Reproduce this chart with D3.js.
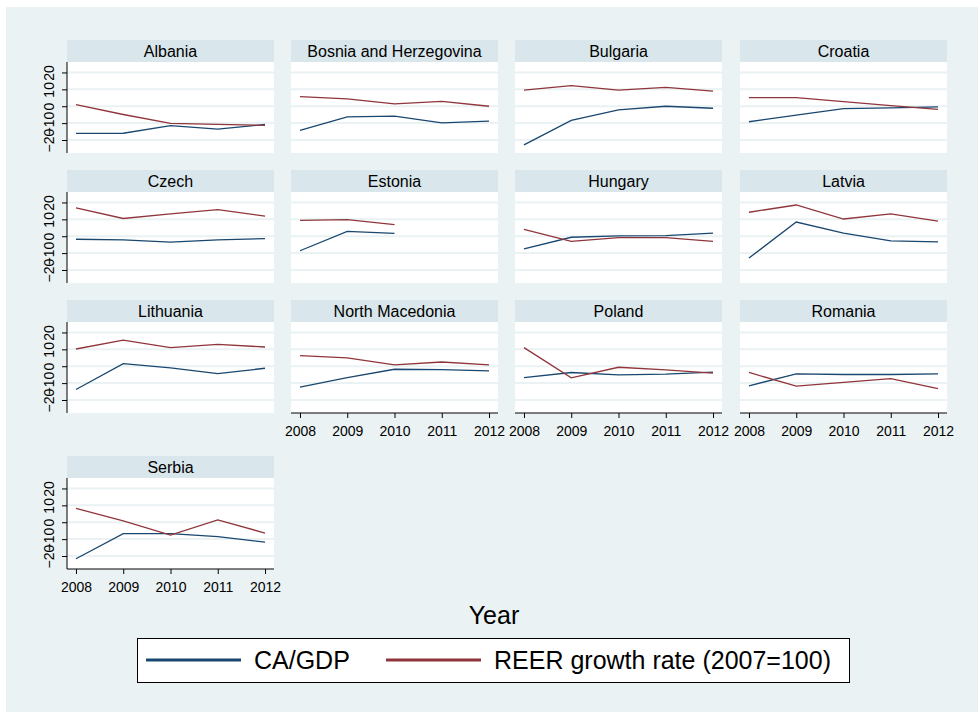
<!DOCTYPE html>
<html>
<head>
<meta charset="utf-8">
<script src="https://cdn.jsdelivr.net/npm/d3@7"></script>
<style>
  body { margin: 0; background: #fff; }
  text { font-family: "Liberation Sans", Arial, sans-serif; fill: #000; }
</style>
</head>
<body>
<div id="chart"></div>
<script>
var svgWidth = 978;
var svgHeight = 712;

// data
var countries = ["Albania", "Bosnia and Herzegovina", "Bulgaria", "Croatia",
  "Czech", "Estonia", "Hungary", "Latvia",
  "Lithuania", "North Macedonia", "Poland", "Romania",
  "Serbia"];
var years = [2008, 2009, 2010, 2011, 2012];
var yTicks = [-20, -10, 0, 10, 20];

var caGdp = [
  [-16.1, -16.0, -11.5, -13.5, -10.8],
  [-14.3, -6.3, -5.9, -9.8, -8.8],
  [-22.9, -8.4, -2.2, 0.0, -1.2],
  [-9.2, -5.3, -1.4, -1.0, -0.4],
  [-1.8, -2.2, -3.5, -2.2, -1.4],
  [-8.6, 2.9, 1.7, null, null],
  [-7.5, -0.6, 0.2, 0.4, 1.9],
  [-12.9, 8.4, 1.9, -2.8, -3.4],
  [-13.8, 1.5, -1.0, -4.4, -1.2],
  [-12.4, -6.7, -1.8, -2.0, -2.7],
  [-6.7, -3.7, -5.1, -4.7, -3.5],
  [-11.6, -4.5, -4.9, -4.9, -4.5],
  [-21.6, -6.8, -6.8, -8.5, -11.8]
];
var reer = [
  [1.0, -4.9, -10.2, -10.8, -11.3],
  [5.7, 4.3, 1.4, 2.9, 0.0],
  [9.6, 12.2, 9.6, 11.2, 9.0],
  [5.1, 5.1, 2.7, 0.4, -1.8],
  [16.8, 10.5, 13.3, 15.7, 11.9],
  [9.4, 9.8, 6.9, null, null],
  [4.1, -3.1, -0.8, -0.8, -3.1],
  [14.2, 18.5, 10.2, 13.2, 9.0],
  [10.2, 15.5, 11.0, 12.9, 11.4],
  [6.3, 4.9, 0.8, 2.5, 0.8],
  [11.0, -6.9, -0.6, -2.2, -4.1],
  [-3.7, -11.8, -9.6, -7.3, -13.3],
  [8.2, 0.8, -7.6, 1.4, -6.4]
];
var seriesNames = ["CA/GDP", "REER growth rate (2007=100)"];
var seriesColors = ["#1a476f", "#90353b"];

// layout
var colX = [67, 291, 515, 740];
var rowY = [40, 170, 300, 456];
var panelW = 207;
var headH = 22;
var plotH = 91;

var svg = d3.select("#chart")
  .append("svg")
  .attr("width", svgWidth)
  .attr("height", svgHeight);

svg.append("rect")
  .attr("x", 6).attr("y", 7)
  .attr("width", svgWidth - 6).attr("height", svgHeight - 7)
  .attr("fill", "#eaf2f3");

var xScale = d3.scaleLinear()
  .domain([2007.81, 2012.19])
  .range([0, panelW]);

var yScale = d3.scaleLinear()
  .domain([-27.7, 26.2])
  .range([plotH, 0]);

var line = d3.line()
  .defined(d => d.v !== null)
  .x(d => xScale(d.year))
  .y(d => yScale(d.v));

countries.forEach(function(name, i) {
  var col = i % 4;
  var row = Math.floor(i / 4);
  var g = svg.append("g")
    .attr("transform", `translate(${colX[col]}, ${rowY[row]})`);

  // header strip
  g.append("rect")
    .attr("width", panelW).attr("height", headH)
    .attr("fill", "#d9e6eb");
  g.append("text")
    .attr("x", panelW / 2).attr("y", 17)
    .attr("text-anchor", "middle")
    .attr("font-size", "16px")
    .text(name);

  var plot = g.append("g").attr("transform", `translate(0, ${headH})`);
  plot.append("rect")
    .attr("width", panelW).attr("height", plotH)
    .attr("fill", "#fff");

  // gridlines
  plot.selectAll(".grid")
    .data(yTicks)
    .enter()
    .append("line")
    .attr("x1", 0).attr("x2", panelW)
    .attr("y1", d => yScale(d)).attr("y2", d => yScale(d))
    .attr("stroke", "#eaf2f3")
    .attr("stroke-width", 2);

  [caGdp[i], reer[i]].forEach(function(vals, s) {
    plot.append("path")
      .datum(years.map((y, k) => ({ year: y, v: vals[k] })))
      .attr("fill", "none")
      .attr("stroke", seriesColors[s])
      .attr("stroke-width", 1.3)
      .attr("d", line);
  });

  // y axis on first column only
  if (col === 0) {
    var leftAxis = d3.axisLeft(yScale)
      .tickValues(yTicks)
      .tickSize(5)
      .tickFormat(d3.format("d"));
    var ya = plot.append("g").call(leftAxis);
    ya.select(".domain").attr("d", `M0,0V${plotH}`);
    ya.selectAll("text")
      .attr("transform", "rotate(-90)")
      .attr("x", 0).attr("y", -13).attr("dy", 0)
      .attr("text-anchor", "middle")
      .attr("font-size", "14px")
      .attr("font-family", "Liberation Sans, Arial, sans-serif");
  }

  // x axis where no panel sits below
  if (i + 4 >= countries.length) {
    var bottomAxis = d3.axisBottom(xScale)
      .tickValues(years)
      .tickSize(5)
      .tickPadding(8)
      .tickFormat(d3.format("d"));
    var xa = plot.append("g")
      .attr("transform", `translate(0, ${plotH})`)
      .call(bottomAxis);
    xa.select(".domain").attr("d", `M0,0H${panelW}`);
    xa.selectAll("text")
      .attr("font-size", "14px")
      .attr("font-family", "Liberation Sans, Arial, sans-serif");
  }
});

// axis title
svg.append("text")
  .attr("x", 494).attr("y", 624)
  .attr("text-anchor", "middle")
  .attr("font-size", "25px")
  .text("Year");

// legend
var legend = svg.append("g");
legend.append("rect")
  .attr("x", 137.5).attr("y", 638.5)
  .attr("width", 712).attr("height", 44)
  .attr("fill", "#fff")
  .attr("stroke", "#000")
  .attr("stroke-width", 1);

var legendX = [146, 386];
seriesNames.forEach(function(n, s) {
  legend.append("line")
    .attr("x1", legendX[s]).attr("x2", legendX[s] + 95)
    .attr("y1", 660).attr("y2", 660)
    .attr("stroke", seriesColors[s])
    .attr("stroke-width", 3);
  legend.append("text")
    .attr("x", legendX[s] + 108).attr("y", 669)
    .attr("font-size", "25px")
    .text(n);
});
</script>
</body>
</html>
